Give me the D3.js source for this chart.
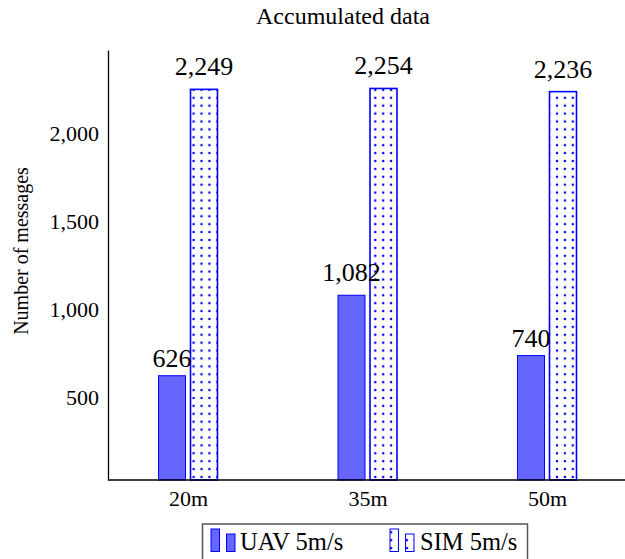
<!DOCTYPE html>
<html><head><meta charset="utf-8">
<script src="https://cdn.jsdelivr.net/npm/d3@7"></script>
<style>body{margin:0;background:#fff}svg{display:block}
svg text{font-family:"Liberation Serif","DejaVu Serif","Times New Roman",serif}</style>
</head><body>
<script>
const categories = ["20m", "35m", "50m"];
const uavValues = [626, 1082, 740];
const simValues = [2249, 2254, 2236];
const yTicks = [500, 1000, 1500, 2000];
const seriesNames = ["UAV 5m/s", "SIM 5m/s"];
const title = "Accumulated data";
const yLabel = "Number of messages";

const W = 625, H = 559;
const svg = d3.select("body").append("svg").attr("width", W).attr("height", H);

const defs = svg.append("defs");
const pat = defs.append("pattern").attr("id", "dots").attr("patternUnits", "userSpaceOnUse")
  .attr("width", 7.9).attr("height", 7.9).attr("x", 2).attr("y", 1);
pat.append("rect").attr("width", 7.9).attr("height", 7.9).attr("fill", "#fff");
pat.append("circle").attr("cx", 2).attr("cy", 2).attr("r", 1.25).attr("fill", "#0000ff");

const x = d3.scaleLinear().domain([0, categories.length - 1]).range([188, 547]);
const y = d3.scaleLinear().domain([35, 2472]).range([480, 50]);
const barW = 27, off = 16;

const fmt = d3.format(",");
const series = [
  {vals: uavValues, dx: -off, fill: "#6666ff"},
  {vals: simValues, dx: off, fill: "url(#dots)"}
];
series.forEach(s => {
  svg.append("g").selectAll("rect").data(s.vals).join("rect")
    .attr("x", (d, i) => x(i) + s.dx - barW / 2)
    .attr("y", d => y(d))
    .attr("width", barW)
    .attr("height", d => y(35) - y(d))
    .attr("fill", s.fill)
    .attr("stroke", "#0000ff")
    .attr("stroke-width", s.dx < 0 ? 1 : 1.6);
});
series.forEach(s => {
  svg.append("g").selectAll("text").data(s.vals).join("text")
    .attr("x", (d, i) => x(i) + s.dx)
    .attr("y", d => y(d) - (fmt(d).includes(",") ? 14 : 9))
    .attr("text-anchor", "middle")
    .attr("font-size", 26)
    .attr("fill", "#000")
    .text(d => fmt(d));
});

const yAxis = d3.axisLeft(y).tickValues(yTicks).tickFormat(fmt).tickSize(0).tickPadding(9);
const gy = svg.append("g").attr("transform", "translate(108,0)").call(yAxis);
gy.attr("font-family", null);
gy.select(".domain").attr("stroke", "#000").attr("stroke-width", 1.3);
gy.selectAll("text").attr("font-size", 22).attr("fill", "#000");

const xAxis = d3.axisBottom(x).tickValues(d3.range(categories.length))
  .tickFormat(i => categories[i]).tickSize(0).tickPadding(10);
const gx = svg.append("g").attr("transform", "translate(0,480)").call(xAxis);
gx.attr("font-family", null);
gx.select(".domain").attr("d", "M108,0H625").attr("stroke", "#000").attr("stroke-width", 1.3);
gx.selectAll("text").attr("font-size", 22).attr("fill", "#000");

svg.append("text").attr("x", 343).attr("y", 24).attr("text-anchor", "middle")
  .attr("font-size", 24).text(title);
svg.append("text").attr("transform", "translate(28,251) rotate(-90)")
  .attr("text-anchor", "middle").attr("font-size", 20).text(yLabel);

const lg = svg.append("g");
lg.append("rect").attr("x", 202.5).attr("y", 524).attr("width", 325).attr("height", 45)
  .attr("fill", "#fff").attr("stroke", "#555").attr("stroke-width", 1.5);
const legendItems = [
  {name: seriesNames[0], x0: 211, fill: "#6666ff", tx: 240},
  {name: seriesNames[1], x0: 390, fill: "url(#dots)", tx: 420}
];
legendItems.forEach(it => {
  lg.append("rect").attr("x", it.x0).attr("y", 529).attr("width", 8.5).attr("height", 22.5)
    .attr("fill", it.fill).attr("stroke", "#0000ff").attr("stroke-width", 1);
  lg.append("rect").attr("x", it.x0 + 15.5).attr("y", 534).attr("width", 8.5).attr("height", 17.5)
    .attr("fill", it.fill).attr("stroke", "#0000ff").attr("stroke-width", 1);
  lg.append("text").attr("x", it.tx).attr("y", 550).attr("font-size", 24.5).text(it.name);
});
</script>
</body></html>
